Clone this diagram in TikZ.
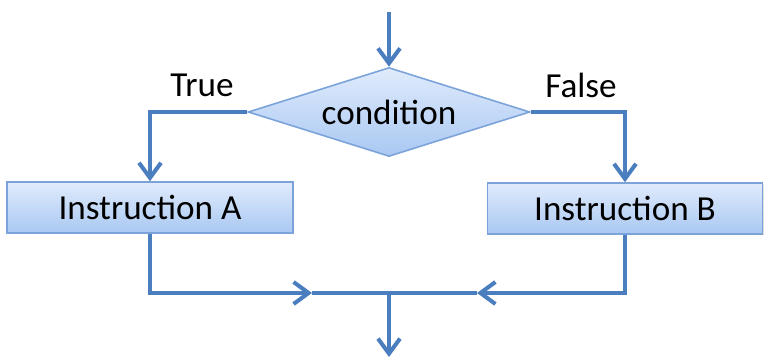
\documentclass[tikz,border=0pt]{standalone}
\usepackage{fontspec}
\setmainfont{Carlito}
\usepackage{tikz}
\usetikzlibrary{arrows.meta,positioning,calc,shapes.geometric,shadows}

\definecolor{flowblue}{HTML}{4A7EBF}
\definecolor{edgeblue}{HTML}{7BA3DA}
\definecolor{filltop}{HTML}{E0EBFC}
\definecolor{fillbot}{HTML}{A9C8F2}

\tikzset{
  flow/.style={draw=flowblue, line width=2.3pt, -{Straight Barb[length=0.3cm, width=0.44cm]}},
  wire/.style={draw=flowblue, line width=2.3pt},
  instr/.style={rectangle, draw=edgeblue, line width=0.9pt, top color=filltop, bottom color=fillbot,
    minimum height=1.02cm, inner sep=0pt,
    drop shadow={shadow xshift=0.6pt, shadow yshift=-0.8pt, opacity=0.25}},
  cond/.style={diamond, draw=edgeblue, line width=0.9pt, top color=filltop, bottom color=fillbot,
    aspect=3.17, inner sep=0pt, minimum width=5.64cm, minimum height=1.78cm},
  lbl/.style={text=black}
}

\begin{document}
\begin{tikzpicture}[x=0.02cm, y=-0.02cm, font=\fontsize{20}{24}\selectfont]

\useasboundingbox (0,0) rectangle (765,361);

% decision
\coordinate (start) at (389,12);
\node[cond, lbl] (test) at (389,112) {condition};
\draw[flow] (start) -- (test.north);

% branch labels
\node[lbl] (true) at (202,85) {True};
\node[lbl] (false) at (581,85) {False};

% instruction boxes
\node[instr, lbl, minimum width=5.72cm] (instA) at (150,207.5) {Instruction A};
\node[instr, lbl, minimum width=5.5cm] (instB) at (625,208.5) {Instruction B};

% two branches
\draw[flow] (test.west) -| (instA.north);
\draw[flow] (test.east) -| (instB.north);

% merge
\coordinate (mergeL) at (312,293);
\coordinate (mergeR) at (477,293);
\coordinate (join) at (389,293);
\coordinate (finish) at (389,357);
\draw[flow] (instA.south) |- (mergeL);
\draw[flow] (instB.south) |- (mergeR);
\draw[wire] (mergeL) -- (mergeR);
\draw[flow] (join) -- (finish);

\end{tikzpicture}
\end{document}
